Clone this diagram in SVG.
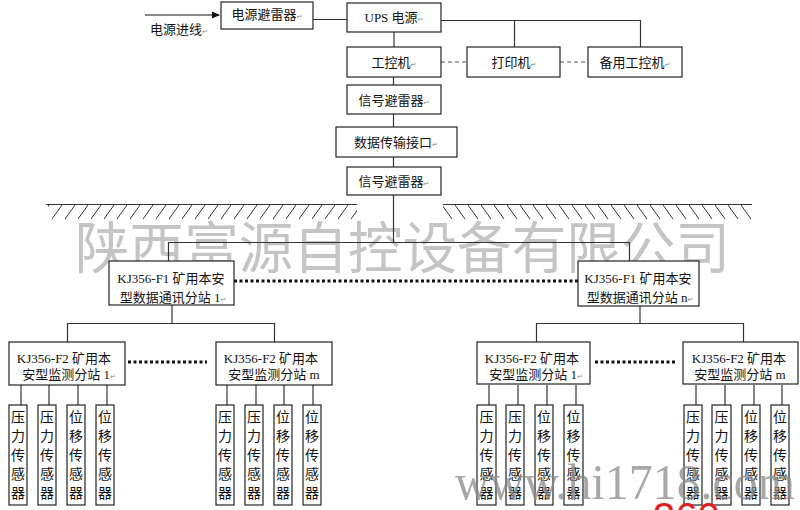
<svg xmlns="http://www.w3.org/2000/svg" width="800" height="510" viewBox="0 0 800 510">
<defs>
<marker id="arr" markerWidth="8" markerHeight="8" refX="7" refY="4" orient="auto" markerUnits="userSpaceOnUse">
<path d="M0,0.5 L8,4 L0,7.5 Z" fill="#111"/>
</marker>
<pattern id="hatchL" x="0" y="205" width="13" height="14" patternUnits="userSpaceOnUse">
<line x1="0" y1="14" x2="10" y2="0" stroke="#333" stroke-width="1"/>
</pattern>
<pattern id="hatchR" x="0" y="205" width="13" height="14" patternUnits="userSpaceOnUse">
<line x1="0" y1="0" x2="10" y2="14" stroke="#333" stroke-width="1"/>
</pattern>
</defs>
<style>
.box{fill:#fff;stroke:#222;stroke-width:1.2}
.ln{stroke:#333;stroke-width:1.2;fill:none}
.dash{stroke:#555;stroke-width:1.2;stroke-dasharray:4 3;fill:none}
.dot{stroke:#111;stroke-width:3;stroke-dasharray:3 2.5;fill:none}
.t{font-family:"Liberation Serif","Noto Sans CJK SC",serif;font-size:13px;fill:#111;text-anchor:middle}
.s{font-family:"Noto Sans CJK SC",sans-serif;font-size:14px;fill:#111;text-anchor:middle}
.rm{font-family:"DejaVu Sans",sans-serif;font-size:7px;fill:#888}
.wm{font-family:"Noto Sans CJK SC",sans-serif;font-size:56px;fill:#c4c4c4}
.wm2{font-family:"Liberation Serif",serif;font-size:50px;fill:#8a8a8a;fill-opacity:0.75}
</style>
<rect width="800" height="510" fill="#fff"/>

<!-- ground -->
<g id="ground">
<rect x="48" y="205" width="309" height="14" fill="url(#hatchL)"/>
<line x1="46" y1="204.5" x2="357" y2="204.5" class="ln"/>
<rect x="443" y="205" width="309" height="14" fill="url(#hatchR)"/>
<line x1="443" y1="204.5" x2="752" y2="204.5" class="ln"/>
</g>

<!-- watermark -->
<text class="wm" x="75" y="268" textLength="655" lengthAdjust="spacingAndGlyphs">陕西富源自控设备有限公司</text>

<g id="connectors">
<line x1="145" y1="15" x2="219" y2="15" stroke="#111" stroke-width="1.2" marker-end="url(#arr)"/>
<line x1="313" y1="19.5" x2="347" y2="19.5" class="ln"/>
<polyline points="441,20.5 640.5,20.5 640.5,47" class="ln"/>
<line x1="514.5" y1="20.5" x2="514.5" y2="47" class="ln"/>
<line x1="394" y1="32" x2="394" y2="47" class="ln"/>
<line x1="441" y1="62" x2="467" y2="62" class="dash"/>
<line x1="560" y1="62" x2="588" y2="62" class="dash"/>
<line x1="393.5" y1="77" x2="393.5" y2="85" class="ln"/>
<line x1="393.5" y1="114" x2="393.5" y2="127" class="ln"/>
<line x1="393.5" y1="157" x2="393.5" y2="167" class="ln"/>
<line x1="393.5" y1="195" x2="393.5" y2="242" class="ln"/>
<polyline points="168.5,261 168.5,242.5 629.5,242.5 629.5,261" class="ln"/>
<line x1="234" y1="281" x2="578" y2="281" class="dot"/>
<line x1="172" y1="305" x2="172" y2="323" class="ln"/>
<polyline points="67.5,342 67.5,323.5 274.5,323.5 274.5,342" class="ln"/>
<line x1="640" y1="306" x2="640" y2="323" class="ln"/>
<polyline points="536.5,342 536.5,323.5 743.5,323.5 743.5,342" class="ln"/>
<line x1="128" y1="362" x2="207" y2="362" class="dot"/>
<line x1="595" y1="362" x2="675" y2="362" class="dot"/>
<path class="ln" d="M21,385V405M49,385V405M78,385V405M107,385V405M227,385V405M256,385V405M284,385V405M313,385V405M489,385V405M518,385V405M547,385V405M576,385V405M696,385V405M725,385V405M754,385V405M782,385V405"/>
</g>

<text x="150" y="34" font-family="Noto Sans CJK SC,sans-serif" font-size="13" fill="#111">电源进线<tspan class="rm">↵</tspan></text>

<g id="n_surge1"><rect class="box" x="221" y="2" width="92" height="27"/><text class="t" x="267" y="19">电源避雷器<tspan class="rm">↵</tspan></text></g>
<g id="n_ups"><rect class="box" x="347" y="3" width="94" height="29"/><text class="t" x="394" y="22">UPS 电源<tspan class="rm">↵</tspan></text></g>
<g id="n_ipc"><rect class="box" x="347" y="47" width="94" height="30"/><text class="t" x="394" y="67">工控机<tspan class="rm">↵</tspan></text></g>
<g id="n_printer"><rect class="box" x="467" y="47" width="93" height="30"/><text class="t" x="514" y="67">打印机<tspan class="rm">↵</tspan></text></g>
<g id="n_ipc2"><rect class="box" x="588" y="47" width="94" height="30"/><text class="t" x="635" y="67">备用工控机<tspan class="rm">↵</tspan></text></g>
<g id="n_sig1"><rect class="box" x="347" y="85" width="94" height="29"/><text class="t" x="394" y="105">信号避雷器<tspan class="rm">↵</tspan></text></g>
<g id="n_data"><rect class="box" x="336" y="127" width="121" height="30"/><text class="t" x="396" y="147">数据传输接口<tspan class="rm">↵</tspan></text></g>
<g id="n_sig2"><rect class="box" x="347" y="167" width="94" height="28"/><text class="t" x="394" y="186">信号避雷器<tspan class="rm">↵</tspan></text></g>

<g id="n_f1_1"><rect class="box" x="109" y="261" width="125" height="44"/>
<text class="t" x="171" y="283">KJ356-F1 矿用本安</text><text class="t" x="173" y="302">型数据通讯分站 1<tspan class="rm">↵</tspan></text></g>
<g id="n_f1_n"><rect class="box" x="578" y="261" width="121" height="45"/>
<text class="t" x="638" y="283">KJ356-F1 矿用本安</text><text class="t" x="640" y="302">型数据通讯分站 n<tspan class="rm">↵</tspan></text></g>

<g id="n_f2_l1"><rect class="box" x="9" y="342" width="116" height="43"/>
<text class="t" x="64" y="363">KJ356-F2 矿用本</text><text class="t" x="69" y="379">安型监测分站 1<tspan class="rm">↵</tspan></text></g>
<g id="n_f2_lm"><rect class="box" x="216" y="342" width="116" height="43"/>
<text class="t" x="271" y="363">KJ356-F2 矿用本</text><text class="t" x="274" y="379">安型监测分站 m</text></g>
<g id="n_f2_r1"><rect class="box" x="477" y="342" width="113" height="42"/>
<text class="t" x="532" y="363">KJ356-F2 矿用本</text><text class="t" x="536" y="379">安型监测分站 1<tspan class="rm">↵</tspan></text></g>
<g id="n_f2_rm"><rect class="box" x="683" y="342" width="115" height="42"/>
<text class="t" x="739" y="363">KJ356-F2 矿用本</text><text class="t" x="740" y="379">安型监测分站 m</text></g>

<g id="sensors">
<g id="s1"><rect class="box" x="9" y="405" width="18" height="100"/><text class="s" x="18" y="422">压</text><text class="s" x="18" y="441">力</text><text class="s" x="18" y="460">传</text><text class="s" x="18" y="479">感</text><text class="s" x="18" y="498">器</text></g>
<g id="s2"><rect class="box" x="38" y="405" width="18" height="100"/><text class="s" x="47" y="422">压</text><text class="s" x="47" y="441">力</text><text class="s" x="47" y="460">传</text><text class="s" x="47" y="479">感</text><text class="s" x="47" y="498">器</text></g>
<g id="s3"><rect class="box" x="67" y="405" width="18" height="100"/><text class="s" x="76" y="422">位</text><text class="s" x="76" y="441">移</text><text class="s" x="76" y="460">传</text><text class="s" x="76" y="479">感</text><text class="s" x="76" y="498">器</text></g>
<g id="s4"><rect class="box" x="96" y="405" width="18" height="100"/><text class="s" x="105" y="422">位</text><text class="s" x="105" y="441">移</text><text class="s" x="105" y="460">传</text><text class="s" x="105" y="479">感</text><text class="s" x="105" y="498">器</text></g>
<g id="s5"><rect class="box" x="216" y="405" width="18" height="100"/><text class="s" x="225" y="422">压</text><text class="s" x="225" y="441">力</text><text class="s" x="225" y="460">传</text><text class="s" x="225" y="479">感</text><text class="s" x="225" y="498">器</text></g>
<g id="s6"><rect class="box" x="245" y="405" width="18" height="100"/><text class="s" x="254" y="422">压</text><text class="s" x="254" y="441">力</text><text class="s" x="254" y="460">传</text><text class="s" x="254" y="479">感</text><text class="s" x="254" y="498">器</text></g>
<g id="s7"><rect class="box" x="274" y="405" width="18" height="100"/><text class="s" x="283" y="422">位</text><text class="s" x="283" y="441">移</text><text class="s" x="283" y="460">传</text><text class="s" x="283" y="479">感</text><text class="s" x="283" y="498">器</text></g>
<g id="s8"><rect class="box" x="303" y="405" width="18" height="100"/><text class="s" x="312" y="422">位</text><text class="s" x="312" y="441">移</text><text class="s" x="312" y="460">传</text><text class="s" x="312" y="479">感</text><text class="s" x="312" y="498">器</text></g>
<g id="s9"><rect class="box" x="477" y="405" width="19" height="100"/><text class="s" x="486.5" y="422">压</text><text class="s" x="486.5" y="441">力</text><text class="s" x="486.5" y="460">传</text><text class="s" x="486.5" y="479">感</text><text class="s" x="486.5" y="498">器</text></g>
<g id="s10"><rect class="box" x="506" y="405" width="18" height="100"/><text class="s" x="515" y="422">压</text><text class="s" x="515" y="441">力</text><text class="s" x="515" y="460">传</text><text class="s" x="515" y="479">感</text><text class="s" x="515" y="498">器</text></g>
<g id="s11"><rect class="box" x="535" y="405" width="18" height="100"/><text class="s" x="544" y="422">位</text><text class="s" x="544" y="441">移</text><text class="s" x="544" y="460">传</text><text class="s" x="544" y="479">感</text><text class="s" x="544" y="498">器</text></g>
<g id="s12"><rect class="box" x="564" y="405" width="19" height="100"/><text class="s" x="573.5" y="422">位</text><text class="s" x="573.5" y="441">移</text><text class="s" x="573.5" y="460">传</text><text class="s" x="573.5" y="479">感</text><text class="s" x="573.5" y="498">器</text></g>
<g id="s13"><rect class="box" x="684" y="405" width="18" height="100"/><text class="s" x="693" y="422">压</text><text class="s" x="693" y="441">力</text><text class="s" x="693" y="460">传</text><text class="s" x="693" y="479">感</text><text class="s" x="693" y="498">器</text></g>
<g id="s14"><rect class="box" x="712" y="405" width="19" height="100"/><text class="s" x="721.5" y="422">压</text><text class="s" x="721.5" y="441">力</text><text class="s" x="721.5" y="460">传</text><text class="s" x="721.5" y="479">感</text><text class="s" x="721.5" y="498">器</text></g>
<g id="s15"><rect class="box" x="742" y="405" width="18" height="100"/><text class="s" x="751" y="422">位</text><text class="s" x="751" y="441">移</text><text class="s" x="751" y="460">传</text><text class="s" x="751" y="479">感</text><text class="s" x="751" y="498">器</text></g>
<g id="s16"><rect class="box" x="771" y="405" width="18" height="100"/><text class="s" x="780" y="422">位</text><text class="s" x="780" y="441">移</text><text class="s" x="780" y="460">传</text><text class="s" x="780" y="479">感</text><text class="s" x="780" y="498">器</text></g>
</g>

<text class="wm2" x="455" y="499" textLength="340" lengthAdjust="spacingAndGlyphs">www.hi1718.com</text>
<text x="653" y="531" font-family="Liberation Sans,sans-serif" font-size="40" fill="#e02020">360</text>
</svg>
